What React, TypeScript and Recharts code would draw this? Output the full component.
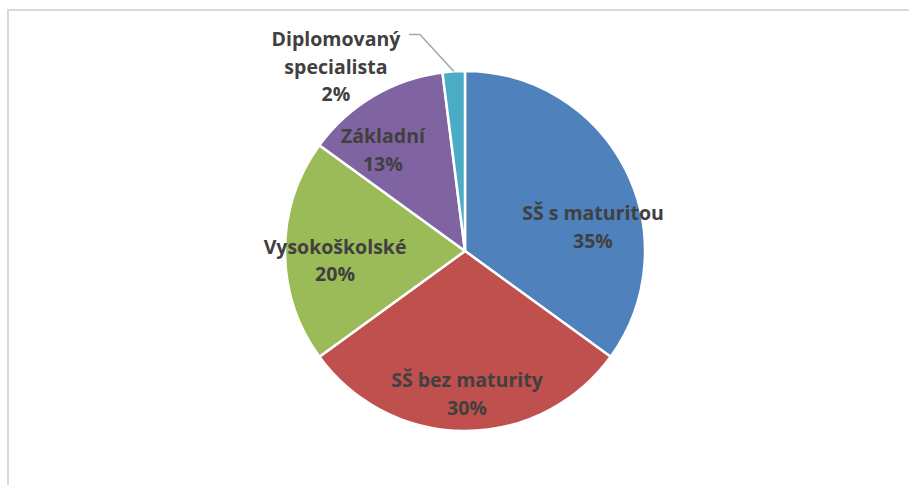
import { PieChart, Pie, Cell } from 'recharts';

const categories = ['SŠ s maturitou', 'SŠ bez maturity', 'Vysokoškolské', 'Základní', 'Diplomovaný specialista'];
const shares = [35, 30, 20, 13, 2];
const colors = ['#4F81BD', '#C0504D', '#9BBB59', '#8064A2', '#4BACC6'];

// label lines per slice (text split as in the original)
const labelLines = [
  ['SŠ s maturitou'],
  ['SŠ bez maturity'],
  ['Vysokoškolské'],
  ['Základní'],
  ['Diplomovaný', 'specialista'],
];

// label centre relative to pie centre, in units of outer radius
const labelPos = [
  [0.711, -0.139],
  [0.011, 0.789],
  [-0.722, 0.047],
  [-0.456, -0.567],
  [-0.717, -1.028],
];

const data = categories.map((name, i) => ({ name, value: shares[i] }));

const RAD = Math.PI / 180;
const LINE_H = 27.5;

function renderLabel(props: any) {
  const { cx, cy, outerRadius, midAngle, index } = props;
  const [fx, fy] = labelPos[index];
  const x = cx + fx * outerRadius;
  const y = cy + fy * outerRadius;
  const lines = [...labelLines[index], `${shares[index]}%`];
  const top = y - ((lines.length - 1) * LINE_H) / 2;

  let leader = null;
  if (index === 4) {
    const ex = cx + outerRadius * Math.cos(-midAngle * RAD);
    const ey = cy + outerRadius * Math.sin(-midAngle * RAD);
    const sx = x + 73;
    const elbowX = x + 84;
    leader = (
      <polyline
        points={`${sx},${top - 4} ${elbowX},${top - 4} ${ex},${ey}`}
        fill="none"
        stroke="#a6a6a6"
        strokeWidth={1.5}
      />
    );
  }

  return (
    <g key={`lbl-${index}`}>
      {leader}
      <text
        x={x}
        y={top}
        textAnchor="middle"
        dominantBaseline="central"
        fill="#404040"
        fontFamily="'Open Sans', sans-serif"
        fontWeight={700}
        fontSize={19.5}
      >
        {lines.map((l, i) => (
          <tspan key={i} x={x} dy={i === 0 ? 0 : LINE_H}>
            {l}
          </tspan>
        ))}
      </text>
    </g>
  );
}

export default function App() {
  return (
    <div style={{ position: 'absolute', left: 0, top: 0, width: 909, height: 485, background: '#fff', overflow: 'hidden' }}>
      <div
        style={{
          position: 'absolute',
          left: 7,
          top: 9,
          width: 920,
          height: 500,
          borderLeft: '2px solid #d9d9d9',
          borderTop: '2px solid #d9d9d9',
        }}
      />
      <div style={{ position: 'absolute', left: 0, top: 0 }}>
        <PieChart width={909} height={485} margin={{ top: 0, right: 0, bottom: 0, left: 0 }}>
          <Pie
            data={data}
            dataKey="value"
            nameKey="name"
            cx={465}
            cy={251}
            outerRadius={180}
            startAngle={90}
            endAngle={-270}
            stroke="#ffffff"
            strokeWidth={2.5}
            label={renderLabel}
            labelLine={false}
            isAnimationActive={false}
          >
            {data.map((d, i) => (
              <Cell key={d.name} fill={colors[i]} />
            ))}
          </Pie>
        </PieChart>
      </div>
    </div>
  );
}
